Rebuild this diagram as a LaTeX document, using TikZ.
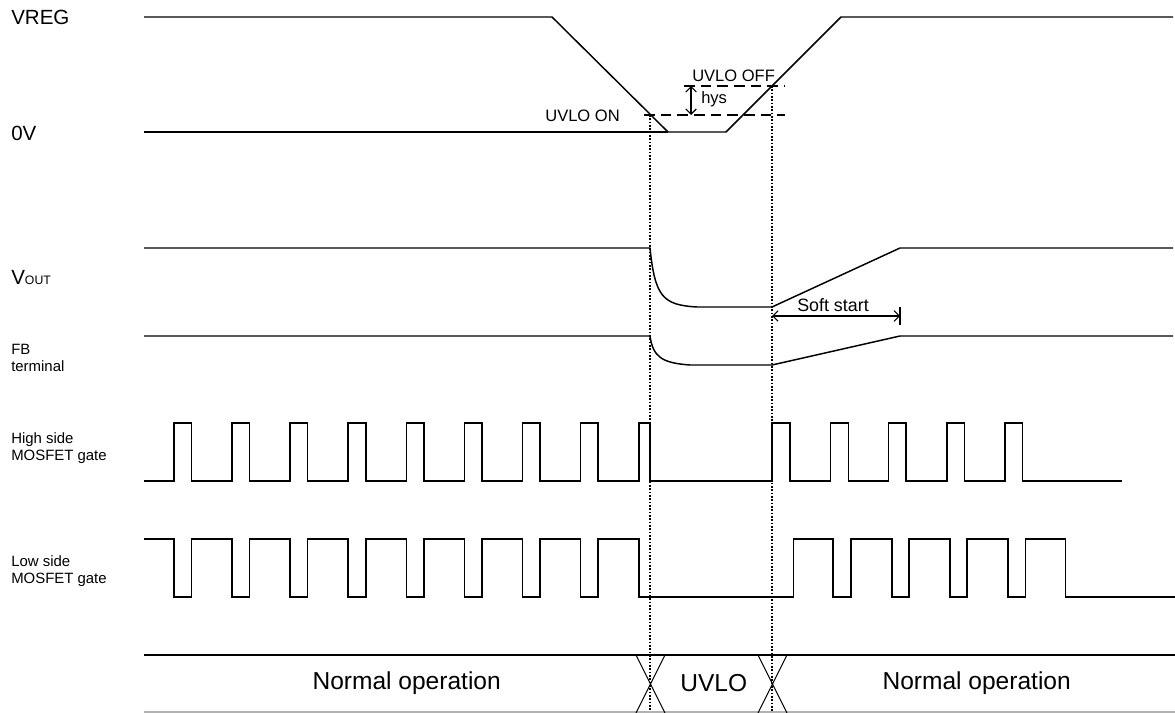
\documentclass[tikz,border=0pt]{standalone}
\usepackage{fontspec}
\setmainfont{Liberation Sans}
\usetikzlibrary{arrows.meta}
\begin{document}
\begin{tikzpicture}[x=0.75pt,y=-0.75pt,
    wave/.style={line width=1.1pt},
    plain/.style={line width=0.8pt},
    marker/.style={line width=0.85pt,dash pattern=on 1.2pt off 1.3pt},
    level/.style={line width=0.8pt,dash pattern=on 8pt off 4.5pt},
    dim/.style={line width=0.8pt,{Straight Barb[length=4pt,width=8pt]}-{Straight Barb[length=4pt,width=8pt]}},
    signame/.style={anchor=west,inner sep=0pt,font=\fontsize{15.4}{18}\selectfont},
    sigsmall/.style={anchor=west,inner sep=0pt,align=left,font=\fontsize{11.2}{12.6}\selectfont},
    note/.style={inner sep=0pt,font=\fontsize{12.4}{14}\selectfont},
    phase/.style={inner sep=0pt,font=\fontsize{18.4}{22}\selectfont}]
    \useasboundingbox (0,0) rectangle (1175,713);
    \node[signame] (vreg) at (11,17) {VREG};
    \node[signame] (zero) at (11,133) {0V};
    \node[signame] (vout) at (11,277) {V{\fontsize{9.2}{10}\selectfont OUT}};
    \node[sigsmall] (fb) at (11,358) {FB\\terminal};
    \node[sigsmall] (hgate) at (11,448) {High side\\MOSFET gate};
    \node[sigsmall] (lgate) at (11,571) {Low side\\MOSFET gate};
    \draw[wave] (144,17) -- (552,17) -- (668,132) -- (726,132) -- (841,17) -- (1173,17);
    \draw[wave] (144,132) -- (668,132);
    \draw[wave] (144,248) -- (650,248) .. controls (655,297) and (663,305) .. (697,307) -- (772,307) -- (900,248) -- (1173,248);
    \draw[wave] (144,336) -- (650,336) .. controls (653,357) and (662,363) .. (690,365) -- (772,365) -- (900,336) -- (1173,336);
    \draw[wave] (144,481) foreach \a/\b in {173.8/191.4,231.9/249.5,290.0/307.6,348.2/365.8,406.3/423.9,464.4/482.0,522.5/540.1,580.6/598.2,638.8/650,772/790,830.7/848.3,888.6/906.2,947/964.5,1005/1022.4} { -| (\a,423) -| (\b,481) } -- (1121.5,481);
    \draw[wave] (144,539) foreach \a/\b in {173.8/191.4,231.9/249.5,290.0/307.6,348.2/365.8,406.3/423.9,464.4/482.0,522.5/540.1,580.6/598.2,638.8/793.3,833.2/850.8,891.9/909.1,949.8/967,1007.8/1025.4} { -| (\a,597) -| (\b,539) } -| (1065.7,597) -- (1175,597);
    \coordinate (ontop) at (650,115);
    \coordinate (offtop) at (772,86);
    \coordinate (onbot) at (650,713);
    \coordinate (offbot) at (772,713);
    \draw[level] (644,115) -- (785,115);
    \draw[level] (684,86) -- (785,86);
    \draw[marker] (ontop) -- (onbot);
    \draw[marker] (offtop) -- (offbot);
    \node[note,anchor=east] (on) at (620,116) {UVLO ON};
    \node[note,anchor=west] (off) at (692,76) {UVLO OFF};
    \node[note,anchor=west] (hys) at (701,99) {hys};
    \coordinate (h1) at (691,86);
    \coordinate (h2) at (691,115);
    \draw[dim] (h1) -- (h2);
    \node[note,font=\fontsize{13.4}{15}\selectfont] (soft) at (833,305) {Soft start};
    \coordinate (ss1) at (772,316);
    \coordinate (ss2) at (900,316);
    \draw[dim] (ss1) -- (ss2);
    \draw[plain] (900,307) -- (900,325);
    \draw[wave] (144,655) -- (1175,655);
    \draw[gray!60,line width=0.8pt] (144,712) -- (1175,712);
    \draw[plain] (636,655) -- (665,713) (665,655) -- (636,713);
    \draw[plain] (758,655) -- (787,713) (787,655) -- (758,713);
    \node[phase] (norm1) at (406.7,683) {Normal operation};
    \node[phase] (uvlo) at (713.7,683) {UVLO};
    \node[phase] (norm2) at (976.7,683) {Normal operation};
\end{tikzpicture}
\end{document}
